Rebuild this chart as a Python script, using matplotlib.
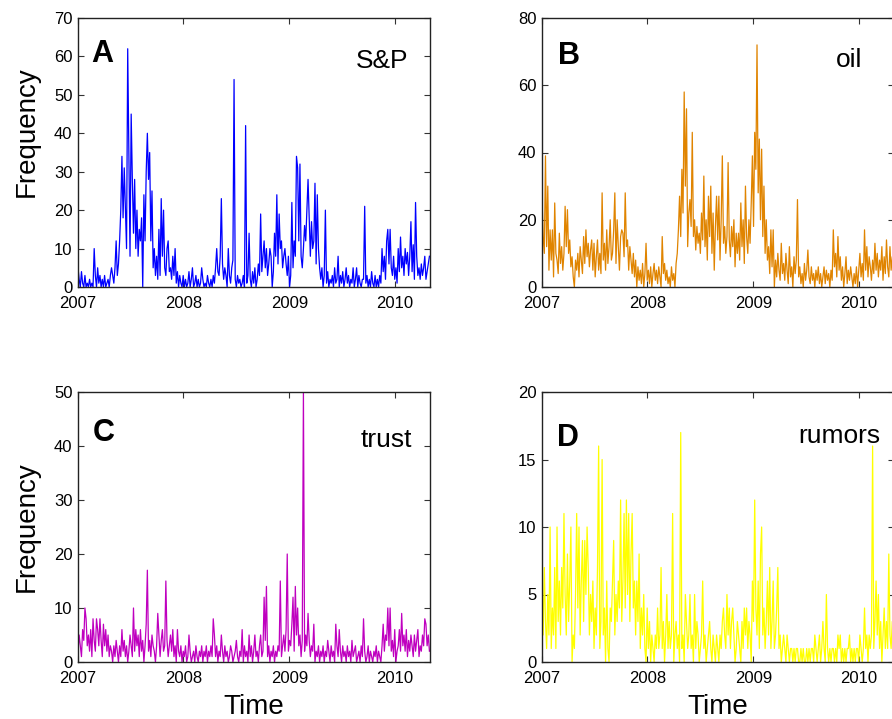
import numpy as np
import matplotlib
matplotlib.use('Agg')
import matplotlib.pyplot as plt

plt.rcParams['font.family'] = ['Liberation Sans', 'DejaVu Sans']

sp = [5, 2, 0, 4, 1, 0, 3, 0, 1, 0,
      2, 0, 1, 0, 10, 3, 0, 5, 1, 3,
      0, 2, 0, 3, 0, 1, 2, 0, 3, 5,
      3, 1, 5, 12, 3, 6, 12, 20, 34, 18,
      31, 20, 10, 62, 36, 8, 45, 28, 14, 28,
      10, 20, 8, 15, 12, 18, 0, 24, 12, 30,
      40, 28, 35, 12, 25, 5, 10, 3, 8, 2,
      15, 3, 23, 8, 20, 5, 3, 10, 12, 4,
      5, 2, 8, 3, 10, 1, 4, 0, 3, 1,
      0, 3, 0, 2, 0, 1, 4, 0, 2, 5,
      0, 1, 3, 0, 2, 0, 1, 5, 2, 0,
      1, 0, 3, 1, 0, 2, 0, 3, 1, 5,
      10, 4, 3, 8, 23, 6, 2, 5, 3, 0,
      10, 3, 1, 5, 7, 54, 2, 0, 3, 1,
      2, 0, 1, 3, 0, 42, 1, 3, 14, 2,
      0, 4, 1, 5, 0, 2, 6, 3, 19, 4,
      8, 12, 5, 10, 3, 6, 10, 8, 0, 4,
      14, 8, 24, 6, 19, 10, 12, 5, 8, 10,
      6, 3, 8, 0, 3, 22, 5, 12, 8, 34,
      31, 12, 32, 8, 5, 10, 16, 12, 20, 28,
      18, 8, 17, 10, 12, 27, 6, 24, 10, 5,
      2, 5, 0, 3, 20, 1, 4, 0, 2, 1,
      3, 0, 5, 1, 2, 8, 0, 3, 1, 4,
      0, 2, 5, 1, 3, 0, 2, 1, 5, 0,
      2, 5, 0, 3, 1, 0, 2, 2, 21, 1,
      3, 0, 2, 0, 4, 1, 0, 3, 0, 2,
      0, 3, 1, 10, 4, 8, 2, 12, 15, 6,
      15, 5, 3, 8, 2, 5, 1, 10, 4, 13,
      5, 8, 3, 10, 6, 9, 3, 8, 17, 4,
      11, 2, 22, 8, 3, 5, 2, 6, 3, 5,
      8, 2, 4, 6, 8]

oil = [27, 15, 10, 39, 12, 30, 5, 17, 8, 17,
       3, 25, 10, 8, 4, 16, 7, 12, 5, 10,
       24, 12, 23, 10, 14, 6, 9, 3, 0, 8,
       5, 10, 3, 12, 8, 4, 15, 7, 17, 9,
       13, 6, 11, 14, 5, 13, 3, 9, 14, 5,
       10, 4, 28, 8, 13, 5, 17, 7, 12, 20,
       8, 10, 17, 28, 7, 20, 12, 5, 15, 17,
       16, 9, 28, 12, 14, 5, 12, 8, 4, 10,
       3, 8, 0, 6, 2, 5, 1, 7, 0, 4,
       13, 2, 5, 1, 6, 0, 4, 7, 2, 5,
       1, 6, 3, 0, 15, 4, 7, 2, 5, 1,
       3, 0, 6, 2, 4, 0, 7, 10, 17, 27,
       15, 35, 22, 58, 30, 53, 12, 22, 26, 18,
       46, 15, 20, 11, 18, 13, 16, 10, 22, 14,
       33, 12, 20, 8, 27, 15, 30, 10, 22, 5,
       18, 27, 14, 27, 8, 20, 39, 13, 18, 10,
       15, 37, 14, 9, 18, 12, 20, 6, 16, 10,
       16, 8, 25, 12, 20, 7, 30, 15, 10, 20,
       13, 25, 39, 18, 46, 35, 72, 28, 44, 20,
       41, 15, 30, 10, 20, 8, 12, 4, 17, 6,
       17, 0, 8, 3, 10, 5, 2, 13, 4, 7,
       2, 10, 5, 1, 12, 3, 6, 0, 9, 4,
       8, 26, 3, 6, 1, 4, 0, 7, 2, 5,
       11, 3, 1, 6, 2, 4, 0, 5, 2, 6,
       1, 4, 0, 3, 6, 1, 5, 2, 4, 0,
       5, 2, 17, 6, 10, 3, 15, 5, 9, 2,
       6, 0, 4, 9, 1, 5, 2, 6, 3, 0,
       4, 1, 6, 0, 5, 10, 3, 7, 2, 17,
       5, 12, 3, 9, 6, 2, 8, 4, 13, 5,
       10, 3, 8, 5, 12, 2, 9, 4, 14, 6,
       3, 12, 5, 9, 4]

trust = [2, 5, 3, 1, 6, 4, 10, 8, 3, 5,
         2, 6, 1, 8, 4, 2, 8, 6, 3, 8,
         4, 1, 7, 3, 6, 2, 5, 1, 3, 2,
         0, 3, 1, 4, 2, 0, 3, 1, 6, 2,
         4, 1, 3, 0, 2, 5, 3, 1, 10, 2,
         6, 3, 5, 1, 6, 2, 4, 0, 3, 7,
         17, 2, 4, 1, 5, 3, 2, 0, 3, 9,
         5, 1, 4, 6, 2, 3, 15, 4, 1, 3,
         5, 2, 6, 1, 3, 0, 6, 2, 1, 3,
         0, 2, 1, 3, 0, 1, 5, 2, 0, 1,
         2, 0, 3, 1, 0, 2, 1, 3, 0, 2,
         1, 3, 0, 2, 1, 3, 1, 8, 5, 1,
         3, 0, 2, 1, 5, 2, 0, 3, 1, 2,
         0, 1, 3, 2, 0, 1, 2, 4, 1, 0,
         2, 1, 6, 0, 3, 1, 2, 0, 5, 1,
         3, 0, 2, 5, 1, 2, 0, 3, 5, 1,
         2, 12, 4, 14, 1, 3, 0, 2, 1, 3,
         0, 2, 1, 3, 2, 15, 1, 3, 5, 2,
         6, 20, 2, 4, 3, 7, 12, 2, 14, 5,
         10, 3, 5, 1, 4, 50, 2, 5, 3, 9,
         4, 1, 3, 2, 7, 0, 2, 1, 3, 0,
         2, 1, 3, 0, 2, 1, 4, 2, 0, 3,
         1, 2, 0, 7, 3, 1, 6, 2, 0, 3,
         1, 2, 0, 3, 1, 2, 0, 4, 1, 2,
         3, 0, 1, 2, 0, 3, 1, 8, 2, 0,
         1, 3, 0, 2, 1, 0, 2, 1, 3, 0,
         2, 1, 0, 3, 7, 2, 5, 4, 10, 3,
         10, 2, 4, 1, 6, 0, 2, 3, 6, 2,
         9, 3, 5, 2, 6, 1, 4, 2, 5, 3,
         1, 5, 2, 4, 6, 1, 3, 2, 5, 3,
         8, 7, 3, 5, 2]

rumors = [6, 2, 7, 3, 1, 5, 2, 10, 1, 4,
          2, 7, 1, 10, 3, 6, 2, 7, 4, 11,
          5, 2, 8, 3, 6, 10, 0, 2, 1, 5,
          11, 4, 10, 2, 6, 9, 3, 9, 5, 10,
          7, 2, 5, 3, 6, 1, 4, 2, 7, 16,
          1, 3, 15, 2, 4, 0, 6, 1, 0, 4,
          3, 6, 9, 2, 5, 3, 6, 4, 12, 3,
          6, 11, 4, 12, 5, 11, 3, 8, 11, 4,
          6, 2, 6, 3, 8, 1, 4, 2, 5, 1,
          0, 4, 1, 3, 0, 2, 1, 0, 2, 1,
          4, 1, 2, 7, 1, 3, 0, 2, 5, 1,
          3, 1, 2, 11, 0, 2, 3, 1, 2, 0,
          17, 1, 2, 0, 5, 3, 1, 2, 5, 1,
          2, 0, 5, 1, 3, 2, 0, 1, 2, 6,
          1, 2, 0, 1, 2, 3, 1, 0, 2, 1,
          0, 2, 1, 0, 2, 1, 3, 4, 2, 1,
          5, 2, 4, 1, 3, 4, 2, 0, 1, 3,
          2, 1, 0, 3, 1, 4, 2, 4, 1, 3,
          2, 0, 6, 3, 12, 4, 2, 6, 1, 8,
          10, 2, 4, 1, 3, 6, 2, 7, 1, 3,
          6, 1, 2, 4, 7, 1, 2, 0, 1, 2,
          1, 0, 2, 1, 0, 1, 1, 0, 1, 0,
          1, 1, 0, 0, 1, 0, 1, 0, 0, 1,
          0, 1, 0, 1, 1, 0, 2, 1, 0, 1,
          2, 0, 1, 3, 1, 0, 5, 1, 0, 1,
          0, 1, 1, 0, 1, 0, 2, 1, 2, 0,
          1, 0, 1, 0, 1, 1, 2, 0, 1, 0,
          1, 0, 1, 1, 0, 2, 1, 0, 1, 4,
          1, 2, 0, 2, 1, 2, 16, 1, 3, 6,
          2, 5, 1, 3, 0, 2, 4, 1, 3, 1,
          8, 2, 1, 3, 1]

series = [sp, oil, trust, rumors]
names = ['S&P', 'oil', 'trust', 'rumors']
letters = ['A', 'B', 'C', 'D']
colors = ['#0000ff', '#e08400', '#bf00bf', '#ffff00']
ymax = [70, 80, 50, 20]
ystep = [10, 20, 10, 5]
years = [2007, 2008, 2009, 2010]

# axes boxes in figure pixels: left, top (from figure top), width, height
W, H = 892, 719
boxes = [(78, 18, 352, 269), (542, 18, 352, 269),
         (78, 392, 352, 270), (542, 392, 352, 270)]
letter_pos = [(0.037, 0.836), (0.045, 0.83), (0.043, 0.818), (0.043, 0.80)]
name_pos = [(0.9375, 0.814), (0.909, 0.818), (0.949, 0.796), (0.96, 0.811)]

fig = plt.figure(figsize=(W / 100, H / 100), dpi=100)

start = np.datetime64('2007-01-01')
for i in range(4):
    l, t, w, h = boxes[i]
    ax = fig.add_axes([l / W, (H - t - h) / H, w / W, h / H])
    y = np.array(series[i])
    x = start + np.arange(len(y)) * np.timedelta64(4, 'D')
    ax.plot(x, y, color=colors[i], lw=0.9)

    ax.set_xlim(np.datetime64('2007-01-01'), np.datetime64('2010-05-03'))
    ax.set_ylim(0, ymax[i])
    ax.set_yticks(np.arange(0, ymax[i] + 1, ystep[i]))
    ax.set_xticks([np.datetime64('%d-01-01' % yr) for yr in years])
    ax.set_xticklabels([str(yr) for yr in years])
    ax.tick_params(direction='in', top=True, right=True, length=4,
                   labelsize=12, color='#333333')
    ax.tick_params(axis='x', pad=6.5)
    ax.tick_params(axis='y', pad=4)
    for s in ax.spines.values():
        s.set_color('#222222')
        s.set_linewidth(1.0)

    ax.text(letter_pos[i][0], letter_pos[i][1], letters[i], transform=ax.transAxes,
            fontsize=22, fontweight='bold', va='baseline', ha='left')
    ax.text(name_pos[i][0], name_pos[i][1], names[i], transform=ax.transAxes,
            fontsize=19, va='baseline', ha='right')

    if i % 2 == 0:
        yl = 0.576 if i == 0 else 0.5
        ax.text(-0.146, yl, 'Frequency', transform=ax.transAxes, rotation=90,
                fontsize=20, ha='center', va='center')
    if i >= 2:
        ax.text(0.5, -0.193, 'Time', transform=ax.transAxes,
                fontsize=20, ha='center', va='baseline')

fig.savefig('out.png', dpi=100)
